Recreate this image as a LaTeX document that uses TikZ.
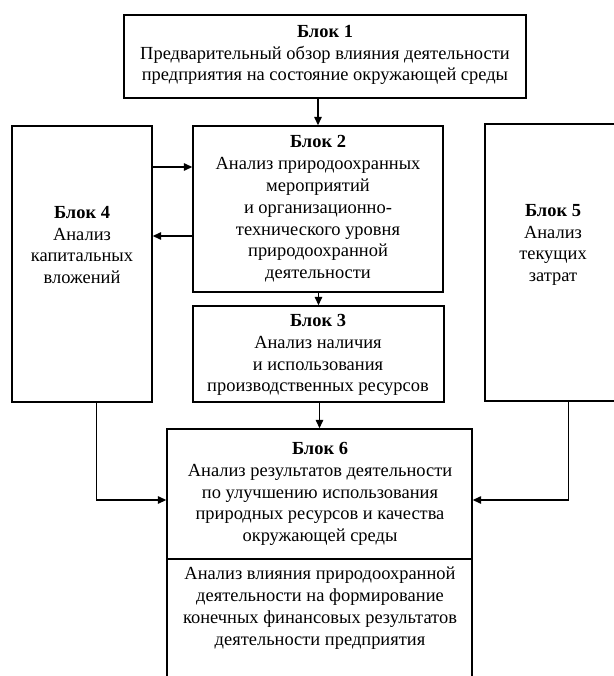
\documentclass[tikz,border=0pt]{standalone}
\usepackage{fontspec}
\setmainfont{Liberation Serif}
\usetikzlibrary{arrows.meta,fit}
\tikzset{
    blok/.style={draw,line width=0.8pt,inner sep=0pt},
    txt/.style={align=center,inner sep=0pt,font=\fontsize{10.5}{12.4}\selectfont},
    pfeil/.style={line width=0.8pt,-{Triangle[length=1.7mm,width=1.5mm]}}
}
\begin{document}
\begin{tikzpicture}[x=0.02cm,y=-0.02cm]
    \useasboundingbox (0,0) rectangle (614,676);

    % Rahmen
    \node[blok,fit={(124,15) (526,98)}] (b1) {};
    \node[blok,fit={(193,126) (443,292)}] (b2) {};
    \node[blok,fit={(193,306) (444,402)}] (b3) {};
    \node[blok,fit={(12,126) (152,402)}] (b4) {};
    \node[blok,fit={(485,124) (622,401)}] (b5) {};
    \node[blok,fit={(167,429) (472,700)}] (b6) {};

    % Hilfspunkte
    \coordinate (h42) at (0,167);
    \coordinate (h24) at (0,236);
    \coordinate (h6) at (0,500);
    \coordinate (teil) at (0,559);

    % Beschriftung
    \node[txt] (t1) at (325,55) {{\bfseries Блок 1}\\
        Предварительный обзор влияния деятельности\\
        предприятия на состояние окружающей среды};
    \node[txt] (t2) at (318,209) {{\bfseries Блок 2}\\
        Анализ природоохранных\\ мероприятий\\ и организационно-\\
        технического уровня\\ природоохранной\\ деятельности};
    \node[txt] (t3) at (318,355) {{\bfseries Блок 3}\\
        Анализ наличия\\ и использования\\ производственных ресурсов};
    \node[txt] (t4) at (82,245) {{\bfseries Блок 4}\\
        Анализ\\ капитальных\\ вложений};
    \node[txt] (t5) at (553,245) {{\bfseries Блок 5}\\
        Анализ\\ текущих\\ затрат};
    \node[txt] (t6) at (320,494) {{\bfseries Блок 6}\\
        Анализ результатов деятельности\\ по улучшению использования\\
        природных ресурсов и качества\\ окружающей среды};
    \node[txt] (t7) at (320,608) {Анализ влияния природоохранной\\
        деятельности на формирование\\ конечных финансовых результатов\\
        деятельности предприятия};

    % Trennlinie Block 6
    \draw[line width=0.8pt] (b6.west |- teil) -- (b6.east |- teil);

    % Pfeile
    \draw[pfeil] (b2.north |- b1.south) -- (b2.north);
    \draw[pfeil] (b4.east |- h42) -- (b2.west |- h42);
    \draw[pfeil] (b2.west |- h24) -- (b4.east |- h24);
    \draw[pfeil] (b3.north |- b2.south) -- (b3.north);
    \draw[pfeil] (b6.north |- b3.south) -- (b6.north);
    \draw[pfeil] ([xshift=0.29cm]b4.south) |- (b6.west |- h6);
    \draw[pfeil] ([xshift=0.3cm]b5.south) |- (b6.east |- h6);
\end{tikzpicture}
\end{document}
